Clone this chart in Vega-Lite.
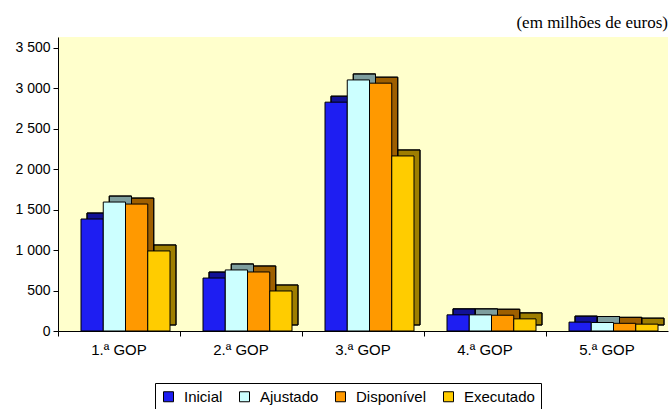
{
  "$schema": "https://vega.github.io/schema/vega-lite/v6.json",
  "width": 610,
  "height": 294,
  "autosize": {"type": "none"},
  "padding": {"left": 58, "top": 37, "right": 2, "bottom": 78},
  "background": "white",
  "title": {
    "text": "(em milhões de euros)",
    "anchor": "end",
    "frame": "group",
    "font": "Liberation Serif",
    "fontSize": 17,
    "fontWeight": "normal",
    "color": "black",
    "offset": 5
  },
  "data": {
    "values": [
      {"gop": "1.ª GOP", "serie": "Inicial", "valor": 1385},
      {"gop": "1.ª GOP", "serie": "Ajustado", "valor": 1595},
      {"gop": "1.ª GOP", "serie": "Disponível", "valor": 1570},
      {"gop": "1.ª GOP", "serie": "Executado", "valor": 990},
      {"gop": "2.ª GOP", "serie": "Inicial", "valor": 655},
      {"gop": "2.ª GOP", "serie": "Ajustado", "valor": 755},
      {"gop": "2.ª GOP", "serie": "Disponível", "valor": 730},
      {"gop": "2.ª GOP", "serie": "Executado", "valor": 495},
      {"gop": "3.ª GOP", "serie": "Inicial", "valor": 2830},
      {"gop": "3.ª GOP", "serie": "Ajustado", "valor": 3105},
      {"gop": "3.ª GOP", "serie": "Disponível", "valor": 3065},
      {"gop": "3.ª GOP", "serie": "Executado", "valor": 2165},
      {"gop": "4.ª GOP", "serie": "Inicial", "valor": 200},
      {"gop": "4.ª GOP", "serie": "Ajustado", "valor": 200},
      {"gop": "4.ª GOP", "serie": "Disponível", "valor": 195},
      {"gop": "4.ª GOP", "serie": "Executado", "valor": 150},
      {"gop": "5.ª GOP", "serie": "Inicial", "valor": 110},
      {"gop": "5.ª GOP", "serie": "Ajustado", "valor": 105},
      {"gop": "5.ª GOP", "serie": "Disponível", "valor": 95},
      {"gop": "5.ª GOP", "serie": "Executado", "valor": 85}
    ]
  },
  "encoding": {
    "x": {
      "field": "gop",
      "type": "nominal",
      "sort": null,
      "scale": {"paddingInner": 0, "paddingOuter": 0},
      "axis": {
        "title": null,
        "labelAngle": 0,
        "bandPosition": 0,
        "tickSize": 5,
        "labelPadding": 6,
        "labelFontSize": 15
      }
    },
    "y": {
      "field": "valor",
      "type": "quantitative",
      "scale": {"domain": [0, 3636], "nice": false},
      "axis": {
        "title": null,
        "values": [0, 500, 1000, 1500, 2000, 2500, 3000, 3500],
        "labelExpr": "replace(format(datum.value, ','), ',', ' ')",
        "tickSize": 5,
        "labelPadding": 3,
        "labelFontSize": 14
      }
    }
  },
  "layer": [
    {
      "layer": [
        {
          "mark": {"type": "bar", "yOffset": -6, "y2Offset": -6, "stroke": "black", "strokeWidth": 1},
          "encoding": {
            "xOffset": {
              "field": "serie",
              "type": "nominal",
              "sort": ["Inicial", "Ajustado", "Disponível", "Executado"],
              "scale": {"paddingInner": 0, "paddingOuter": 0, "range": [29, 118]}
            },
            "color": {
              "field": "serie",
              "type": "nominal",
              "sort": ["Inicial", "Ajustado", "Disponível", "Executado"],
              "scale": {"domain": ["Inicial", "Ajustado", "Disponível", "Executado"], "range": ["#1E1EF2", "#CCFFFF", "#FF9900", "#FFCC00"]},
              "legend": {
                "orient": "none",
                "legendX": 97,
                "legendY": 346,
                "direction": "horizontal",
                "title": null,
                "strokeColor": "black",
                "fillColor": "white",
                "padding": 6,
                "symbolType": "square",
                "symbolSize": 100,
                "symbolStrokeColor": "black",
                "symbolStrokeWidth": 1,
                "labelFontSize": 15,
                "labelFont": "Liberation Sans",
                "labelColor": "black",
                "columnPadding": 14,
                "labelOffset": 8
              }
            }
          }
        },
        {
          "mark": {"type": "bar", "yOffset": -6, "y2Offset": -6, "fill": "black", "fillOpacity": 0.38, "stroke": "black", "strokeWidth": 1},
          "encoding": {
            "xOffset": {
              "field": "serie",
              "type": "nominal",
              "sort": ["Inicial", "Ajustado", "Disponível", "Executado"],
              "scale": {"paddingInner": 0, "paddingOuter": 0, "range": [29, 118]}
            }
          }
        }
      ]
    },
    {
      "mark": {"type": "bar", "stroke": "black", "strokeWidth": 1},
      "encoding": {
        "xOffset": {
          "field": "serie",
          "type": "nominal",
          "sort": ["Inicial", "Ajustado", "Disponível", "Executado"],
          "scale": {"paddingInner": 0, "paddingOuter": 0, "range": [23, 112]}
        },
        "color": {
          "field": "serie",
          "type": "nominal",
          "sort": ["Inicial", "Ajustado", "Disponível", "Executado"],
          "scale": {"domain": ["Inicial", "Ajustado", "Disponível", "Executado"], "range": ["#1E1EF2", "#CCFFFF", "#FF9900", "#FFCC00"]},
          "legend": {
            "orient": "none",
            "legendX": 97,
            "legendY": 346,
            "direction": "horizontal",
            "title": null,
            "strokeColor": "black",
            "fillColor": "white",
            "padding": 6,
            "symbolType": "square",
            "symbolSize": 100,
            "symbolStrokeColor": "black",
            "symbolStrokeWidth": 1,
            "labelFontSize": 15,
            "labelFont": "Liberation Sans",
            "labelColor": "black",
            "columnPadding": 14,
            "labelOffset": 8
          }
        }
      }
    }
  ],
  "resolve": {"scale": {"xOffset": "independent"}},
  "config": {
    "view": {"fill": "#FFFFCC", "stroke": null},
    "axis": {
      "labelFont": "Liberation Sans",
      "labelColor": "black",
      "domainColor": "black",
      "tickColor": "black",
      "grid": false
    }
  }
}
